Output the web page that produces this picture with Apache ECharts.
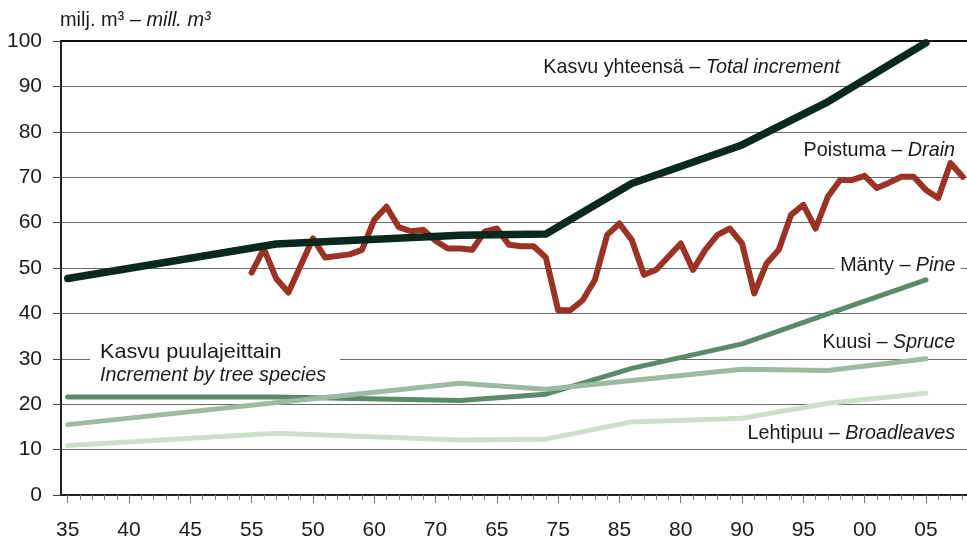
<!DOCTYPE html>
<html>
<head>
<meta charset="utf-8">
<script src="https://cdn.jsdelivr.net/npm/echarts@6/dist/echarts.min.js"></script>
<style>
  html, body { margin: 0; padding: 0; background: #fff; }
  #chart { width: 967px; height: 542px; }
</style>
</head>
<body>
<div id="chart"></div>
<script>
  // tick labels as printed under the axis (left to right)
  var xLabels = ['35', '40', '45', '55', '50', '60', '70', '65', '75', '85', '80', '90', '95', '00', '05'];

  // inventory points for increment series (axis position)
  var surveyPos = [35, 52, 67, 74, 81, 90, 97, 105];
  var totalIncrement = [47.7, 55.3, 57.2, 57.5, 68.6, 77.1, 86.6, 99.6];
  var pine = [21.6, 21.6, 20.8, 22.2, 27.9, 33.3, 39.9, 47.4];
  var spruce = [15.5, null, 24.6, 23.3, null, 27.7, 27.4, 30.0];
  var broadleaves = [10.9, 13.6, 12.1, 12.3, 16.1, 16.9, 20.2, 22.4];

  // yearly drain
  var drainPos = [50, 51, 52, 53, 55, 56, 58, 59, 60, 61, 62, 63, 64, 65, 66, 67, 68, 69, 70,
    71, 72, 73, 74, 75, 76, 77, 78, 79, 80, 81, 82, 83, 85, 86, 87, 88, 89, 90, 91, 92, 93,
    94, 95, 96, 97, 98, 99, 100, 101, 102, 103, 104, 105, 106, 107, 108];
  var drain = [49.0, 54.2, 47.7, 44.6, 56.5, 52.3, 53.0, 54.0, 60.6, 63.5, 59.0, 58.1, 58.4, 56.0, 54.3, 54.3, 54.0, 58.0, 58.7,
    55.1, 54.8, 54.8, 52.3, 40.7, 40.7, 42.9, 47.4, 57.3, 59.8, 56.2, 48.5, 49.6, 55.4, 49.6, 54.0, 57.3, 58.7, 55.4, 44.4, 51.0, 54.0,
    61.7, 63.9, 58.7, 65.7, 69.4, 69.4, 70.3, 67.6, 68.8, 70.1, 70.1, 67.2, 65.4, 73.1, 70.1];

  var FONT = '"Liberation Sans", Arial, sans-serif';
  var TXT = '#1a1a1a';
  var FS = 21;

  var labelPos = xLabels.map(function (l, i) { return 35 + i * 5; });
  var yearTicks = [];
  for (var y = 35; y <= 108; y++) { yearTicks.push(y); }

  function pairs(xs, ys) {
    return xs.map(function (x, i) { return [x, ys[i]]; });
  }

  function lineSeries(name, data, color, width, z) {
    return {
      name: name,
      type: 'line',
      data: data,
      symbol: 'none',
      connectNulls: true,
      z: z,
      lineStyle: { color: color, width: width, cap: 'round', join: 'round' },
      animation: false
    };
  }

  // text note; sx squeezes it a little to get closer to the original type
  function note(text, x, y, align, bg, sx) {
    return {
      type: 'text',
      x: x,
      y: y,
      z: 50,
      scaleX: sx || 1,
      style: {
        text: text,
        fill: TXT,
        font: FS + 'px ' + FONT,
        align: align,
        verticalAlign: 'middle',
        backgroundColor: bg ? '#fff' : null,
        padding: bg ? [0, 6] : 0,
        rich: {
          i: { fontStyle: 'italic', fontSize: FS, fontFamily: FONT, fill: TXT }
        }
      }
    };
  }

  var chart = echarts.init(document.getElementById('chart'));

  chart.setOption({
    backgroundColor: '#fff',
    animation: false,
    grid: { left: 61, right: 0, top: 41, bottom: 47 },
    xAxis: [{
      type: 'value',
      min: 34.45,
      max: 108.35,
      axisLine: { show: true, onZero: false, lineStyle: { color: '#222', width: 2 } },
      axisTick: { show: true, customValues: labelPos, length: 8, lineStyle: { color: '#777', width: 1 } },
      axisLabel: {
        customValues: labelPos,
        margin: 25,
        color: TXT,
        fontSize: FS,
        fontFamily: FONT,
        formatter: function (v) { return xLabels[Math.round((v - 35) / 5)]; }
      },
      splitLine: { show: false }
    }, {
      type: 'value',
      position: 'bottom',
      min: 34.45,
      max: 108.35,
      axisLine: { show: false },
      axisTick: { show: true, customValues: yearTicks, length: 5, lineStyle: { color: '#777', width: 1 } },
      axisLabel: { show: false },
      splitLine: { show: false }
    }, {
      type: 'value',
      position: 'top',
      min: 34.45,
      max: 108.35,
      axisLine: { show: true, lineStyle: { color: '#111', width: 2 } },
      axisTick: { show: false },
      axisLabel: { show: false },
      splitLine: { show: false }
    }],
    yAxis: {
      type: 'value',
      min: 0,
      max: 100,
      interval: 10,
      axisLine: { show: true, lineStyle: { color: '#222', width: 2 } },
      axisTick: { show: true, length: 8, lineStyle: { color: '#444', width: 1 } },
      axisLabel: { margin: 19, color: TXT, fontSize: FS, fontFamily: FONT },
      splitLine: { show: true, lineStyle: { color: '#6a6a6a', width: 1 } }
    },
    series: [
      lineSeries('Lehtipuu – Broadleaves', pairs(surveyPos, broadleaves), '#d0dfcd', 5, 2),
      lineSeries('Mänty – Pine', pairs(surveyPos, pine), '#5b8a68', 5, 3),
      lineSeries('Kuusi – Spruce', pairs(surveyPos, spruce), '#9dbaa3', 5, 4),
      lineSeries('Poistuma – Drain', pairs(drainPos, drain), '#9a3225', 6, 5),
      lineSeries('Kasvu yhteensä – Total increment', pairs(surveyPos, totalIncrement), '#08291b', 7.5, 6)
    ],
    graphic: [
      note('milj. m³ – {i|mill. m³}', 60, 20, 'left', false, 0.95),
      note('Kasvu yhteensä – {i|Total increment}', 840, 67, 'right', false, 0.94),
      note('Poistuma – {i|Drain}', 955, 150, 'right', false, 0.94),
      note('Mänty – {i|Pine}', 961, 265, 'right', true, 0.94),
      note('Kuusi – {i|Spruce}', 955, 342, 'right', false, 0.93),
      note('Lehtipuu – {i|Broadleaves}', 955, 433, 'right', false, 0.94),
      {
        type: 'rect',
        z: 40,
        shape: { x: 90, y: 340, width: 250, height: 46 },
        style: { fill: '#fff' }
      },
      note('Kasvu puulajeittain', 100, 352, 'left', false, 1.03),
      note('{i|Increment by tree species}', 100, 375, 'left', false, 0.94)
    ]
  });
</script>
</body>
</html>
